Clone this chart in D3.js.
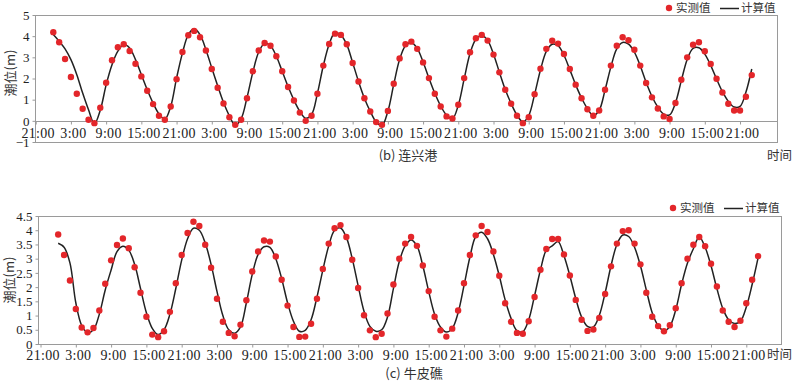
<!DOCTYPE html>
<html>
<head>
<meta charset="utf-8">
<script src="https://cdn.jsdelivr.net/npm/d3@7"></script>
<style>
  html, body { margin: 0; padding: 0; background: #fff; }
  svg { display: block; }
</style>
</head>
<body>
<svg id="chart" width="796" height="381"></svg>
<script>
// ---------- DATA ----------
// hourly observations starting 0:00 (3 h after the first 21:00 tick), 120 hours
const tickLabels = ["21:00","3:00","9:00","15:00","21:00","3:00","9:00","15:00","21:00","3:00","9:00",
                    "15:00","21:00","3:00","9:00","15:00","21:00","3:00","9:00","15:00","21:00"];
const tickHours = [0,6,12,18,24,30,36,42,48,54,60,66,72,78,84,90,96,102,108,114,120];

// (b) 连兴港
const lxgMeasured = [4.19,3.71,2.92,2.07,1.28,0.57,0.05,-0.11,0.62,1.80,2.86,3.48,3.62,3.30,2.70,2.10,1.42,0.79,0.24,0.05,
  0.68,1.97,3.25,4.04,4.25,3.95,3.32,2.45,1.56,0.82,0.17,-0.19,0.05,1.07,2.34,3.32,3.68,3.55,3.05,2.34,
  1.60,0.96,0.39,0.00,0.24,1.28,2.61,3.63,4.12,4.06,3.62,2.73,1.86,1.07,0.44,-0.06,-0.19,0.47,1.75,2.95,
  3.62,3.74,3.40,2.76,2.02,1.28,0.68,0.21,0.11,0.76,2.02,3.24,3.90,4.06,3.79,3.13,2.29,1.47,0.81,0.24,
  -0.11,0.17,1.26,2.46,3.40,3.78,3.65,3.16,2.45,1.71,1.07,0.55,0.24,0.49,1.47,2.61,3.55,3.95,3.81,3.36,
  2.61,1.79,1.11,0.58,0.21,0.09,0.84,1.94,3.00,3.60,3.71,3.29,2.69,1.99,1.34,0.81,0.49,0.49,1.14,2.16];
const lxgComputed = [4.08,3.76,3.40,2.89,2.18,1.31,0.52,-0.15,0.50,1.70,2.65,3.29,3.60,3.44,2.89,2.18,1.47,0.84,0.33,0.08,
  0.68,2.02,3.20,4.07,4.35,4.07,3.36,2.50,1.66,0.87,0.24,-0.22,0.10,1.10,2.30,3.25,3.66,3.55,3.05,2.34,
  1.62,0.98,0.45,0.12,0.30,1.30,2.60,3.62,4.17,4.05,3.60,2.75,1.86,1.07,0.45,-0.05,-0.22,0.45,1.72,2.90,
  3.55,3.70,3.42,2.78,2.02,1.30,0.70,0.27,0.10,0.74,1.98,3.18,3.85,4.03,3.80,3.15,2.30,1.48,0.82,0.27,
  -0.05,0.25,1.25,2.40,3.28,3.62,3.55,3.10,2.42,1.70,1.08,0.58,0.25,0.50,1.45,2.55,3.40,3.70,3.62,3.25,
  2.60,1.82,1.15,0.65,0.32,0.28,0.85,1.90,2.90,3.42,3.45,3.15,2.62,1.98,1.38,0.92,0.65,0.68,1.35,2.45];

// (c) 牛皮礁
const npjMeasured = [3.85,3.13,2.23,1.23,0.58,0.41,0.56,1.18,2.12,2.94,3.48,3.71,3.37,2.70,1.80,0.96,0.33,0.24,0.45,1.13,
  2.14,3.13,3.90,4.30,4.15,3.49,2.68,1.59,0.78,0.39,0.27,0.68,1.54,2.55,3.25,3.64,3.60,3.08,2.26,1.35,
  0.60,0.25,0.26,0.71,1.59,2.64,3.53,4.07,4.18,3.76,2.96,1.97,1.01,0.48,0.24,0.36,1.07,2.09,3.00,3.53,
  3.76,3.45,2.76,1.86,0.96,0.48,0.26,0.54,1.18,2.14,3.13,3.82,4.15,3.94,3.25,2.40,1.43,0.78,0.39,0.36,
  0.80,1.65,2.61,3.34,3.69,3.69,3.15,2.41,1.55,0.85,0.46,0.51,0.92,1.76,2.73,3.53,3.97,4.00,3.53,2.80,
  1.80,0.96,0.63,0.45,0.66,1.26,2.14,3.00,3.49,3.76,3.44,2.82,2.02,1.18,0.78,0.60,0.82,1.43,2.26,3.09];
const npjComputed = [3.54,3.40,2.85,1.45,0.65,0.40,0.50,1.05,1.90,2.60,3.25,3.44,3.30,2.80,1.95,1.10,0.55,0.33,0.50,1.05,
  1.95,2.95,3.70,4.07,4.00,3.55,2.80,1.85,1.00,0.50,0.38,0.60,1.45,2.45,3.15,3.42,3.40,3.00,2.30,1.45,
  0.80,0.45,0.48,0.85,1.65,2.60,3.45,4.00,4.08,3.75,3.00,2.05,1.15,0.62,0.45,0.50,0.95,1.95,2.90,3.45,
  3.66,3.45,2.75,1.85,1.05,0.60,0.42,0.55,1.10,2.05,3.05,3.78,3.93,3.70,3.15,2.40,1.55,0.90,0.47,0.43,
  0.85,1.70,2.60,3.30,3.45,3.60,3.10,2.40,1.60,0.95,0.62,0.60,1.00,1.80,2.75,3.50,3.83,3.78,3.40,2.75,
  1.90,1.10,0.65,0.46,0.62,1.20,2.10,2.85,3.35,3.76,3.40,2.75,1.95,1.25,0.85,0.72,0.80,1.30,2.10,3.03];

const firstHour = 3;   // first observation at 0:00
const lxgYTicks = [-1,0,1,2,3,4,5];
const npjYTicks = [0,0.5,1,1.5,2,2.5,3,3.5,4,4.5];

// ---------- DRAWING ----------
const svg = d3.select("#chart");
const serif = "'Liberation Serif','DejaVu Serif',serif";
const cjk = "'Noto Sans CJK SC','Noto Sans',sans-serif";
const frameColor = "#9a9a9a";
const red = "#e3262a";

function drawPanel(cfg) {
  const g = svg.append("g");
  const x = d3.scaleLinear().domain(cfg.xDomain).range([cfg.left, cfg.right]);
  const y = d3.scaleLinear().domain(cfg.yDomain).range([cfg.bottom, cfg.top]);

  // frame
  g.append("rect").attr("x", cfg.left + 0.5).attr("y", cfg.top + 0.5)
    .attr("width", cfg.right - cfg.left).attr("height", cfg.bottom - cfg.top)
    .attr("fill", "none").attr("stroke", frameColor).attr("stroke-width", 1);

  // y axis
  const yAxis = d3.axisLeft(y).tickValues(cfg.yTicks).tickSize(3).tickPadding(3)
    .tickFormat(d => (d < 0 ? "\u2212" + Math.abs(d) : String(d)));
  const ya = g.append("g").attr("transform", `translate(${cfg.left + 0.5},0)`).call(yAxis);
  ya.select(".domain").remove();
  ya.selectAll("line").attr("stroke", frameColor);
  ya.selectAll("text").attr("font-family", serif).attr("font-size", "13px").attr("fill", "#222");

  // x axis (at the zero line)
  const axisY = y(0);
  if (cfg.zeroLine) {
    g.append("line").attr("x1", cfg.left).attr("x2", cfg.right)
      .attr("y1", Math.round(axisY) + 0.5).attr("y2", Math.round(axisY) + 0.5)
      .attr("stroke", frameColor).attr("stroke-width", 1);
  }
  const xAxis = d3.axisBottom(x).tickValues(tickHours).tickSize(3).tickPadding(cfg.xPad)
    .tickFormat((d, i) => tickLabels[i]);
  const xa = g.append("g").attr("transform", `translate(0,${Math.round(axisY) + 0.5})`).call(xAxis);
  xa.select(".domain").remove();
  xa.selectAll("line").attr("stroke", frameColor);
  xa.selectAll("text").attr("font-family", serif).attr("font-size", "14px").attr("fill", "#222")
    .attr("letter-spacing", "0.3px").attr("dx", "2");

  // computed line
  const pts = cfg.computed.map((v, i) => [firstHour + i, v]);
  const line = d3.line().x(d => x(d[0])).y(d => y(d[1])).curve(d3.curveCatmullRom.alpha(0.5));
  g.append("path").attr("d", line(pts)).attr("fill", "none")
    .attr("stroke", "#222").attr("stroke-width", 1.5);

  // measured points
  g.selectAll("circle.m").data(cfg.measured).join("circle").attr("class", "m")
    .attr("cx", (d, i) => x(firstHour + i)).attr("cy", d => y(d))
    .attr("r", 3.2).attr("fill", red);

  // y title
  g.append("text").attr("transform", `translate(${cfg.yTitleX},${cfg.yTitleY}) rotate(-90)`)
    .attr("text-anchor", "middle").attr("dy", "0.35em")
    .attr("font-family", cjk).attr("font-size", "13px").attr("fill", "#333").text("潮位(m)");

  // caption and 时间
  g.append("text").attr("x", cfg.capX).attr("y", cfg.capY).attr("text-anchor", "middle")
    .attr("font-family", cjk).attr("font-size", "13px").attr("fill", "#333").text(cfg.caption);
  g.append("text").attr("x", 767).attr("y", cfg.timeY)
    .attr("font-family", cjk).attr("font-size", "12.5px").attr("fill", "#333").text("时间");

  // legend
  const lg = g.append("g").attr("transform", `translate(${cfg.legX},${cfg.legY})`);
  lg.append("circle").attr("cx", 0).attr("cy", 0).attr("r", 3.2).attr("fill", red);
  lg.append("text").attr("x", 7).attr("y", 0).attr("dy", "0.36em")
    .attr("font-family", cjk).attr("font-size", "11.5px").attr("fill", "#333").text("实测值");
  lg.append("line").attr("x1", 51).attr("x2", 70).attr("y1", 0.5).attr("y2", 0.5)
    .attr("stroke", "#222").attr("stroke-width", 1.5);
  lg.append("text").attr("x", 72).attr("y", 0).attr("dy", "0.36em")
    .attr("font-family", cjk).attr("font-size", "11.5px").attr("fill", "#333").text("计算值");
}

drawPanel({
  left: 35, right: 777, top: 15, bottom: 142,
  xDomain: [-0.12, 126.3], yDomain: [-1, 5], yTicks: lxgYTicks,
  measured: lxgMeasured, computed: lxgComputed, zeroLine: true, xPad: 4,
  yTitleX: 10, yTitleY: 73, caption: "(b) 连兴港", capX: 408, capY: 160, timeY: 160,
  legX: 669, legY: 8
});

drawPanel({
  left: 38, right: 781, top: 216, bottom: 344,
  xDomain: [-0.43, 125.9], yDomain: [0, 4.5], yTicks: npjYTicks,
  measured: npjMeasured, computed: npjComputed, zeroLine: false, xPad: 3,
  yTitleX: 9, yTitleY: 280, caption: "(c) 牛皮礁", capX: 414, capY: 378, timeY: 359,
  legX: 673, legY: 208
});
</script>
</body>
</html>
